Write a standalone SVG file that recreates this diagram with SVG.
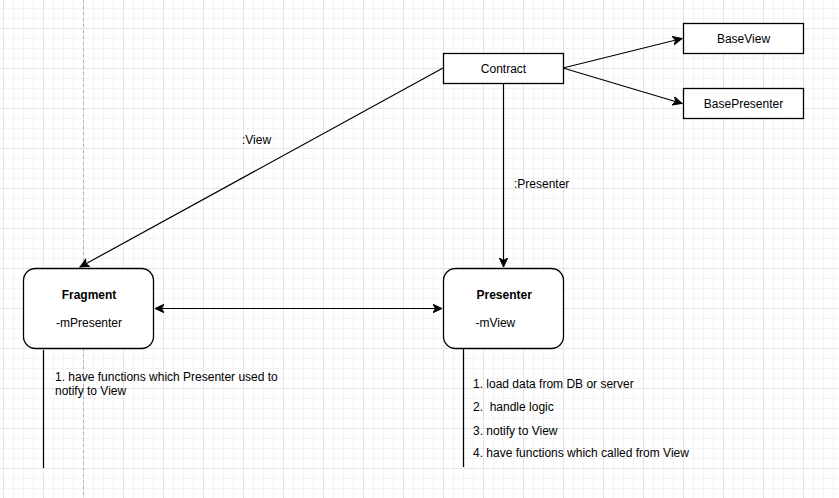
<svg xmlns="http://www.w3.org/2000/svg" width="839" height="498" viewBox="0 0 839 498">
<defs>
<pattern id="minor" x="3" y="8" width="10" height="10" patternUnits="userSpaceOnUse">
<path d="M0 0.5H10M0.5 0V10" fill="none" stroke="#f4f4f4" stroke-width="1"/>
</pattern>
<pattern id="major" x="3" y="28" width="40" height="40" patternUnits="userSpaceOnUse">
<path d="M0 0.5H40M0.5 0V40" fill="none" stroke="#e5e5e5" stroke-width="1"/>
</pattern>
<marker id="arr" viewBox="0 0 10 10" refX="9" refY="5" markerWidth="10" markerHeight="10" markerUnits="userSpaceOnUse" orient="auto-start-reverse">
<path d="M0,0.8 L9,5 L0,9.2 L2.5,5 Z" fill="#000" stroke="#000" stroke-width="1"/>
</marker>
<style>
.box{fill:#fff;stroke:#000;stroke-width:1.3}
.t{font-family:"Liberation Sans",Arial,sans-serif;font-size:12px;fill:#000;white-space:pre}
.b{font-weight:bold}
.c{fill:none;stroke:#000;stroke-width:1.2}
.life{fill:none;stroke:#000;stroke-width:1.3}
</style>
</defs>
<rect width="839" height="498" fill="#fff"/>
<rect width="839" height="498" fill="url(#minor)"/>
<rect width="839" height="498" fill="url(#major)"/>
<line x1="83.5" y1="0" x2="83.5" y2="498" stroke="#b0b0b0" stroke-width="1" stroke-dasharray="3,3"/>

<g id="connectors">
<line class="c" x1="563" y1="68" x2="682" y2="38.5" marker-end="url(#arr)"/>
<line class="c" x1="563" y1="68" x2="682" y2="103.5" marker-end="url(#arr)"/>
<line class="c" x1="443" y1="68" x2="80" y2="267" marker-end="url(#arr)"/>
<line class="c" x1="503.5" y1="83" x2="503.5" y2="267" marker-end="url(#arr)"/>
<line class="c" x1="155" y1="308.5" x2="442" y2="308.5" marker-start="url(#arr)" marker-end="url(#arr)"/>
<text class="t" x="242" y="144">:View</text>
<text class="t" x="514" y="188">:Presenter</text>
</g>

<g id="contract">
<rect class="box" x="443.5" y="53.5" width="120" height="30"/>
<text class="t" x="503.5" y="72.5" text-anchor="middle">Contract</text>
</g>
<g id="baseview">
<rect class="box" x="683.5" y="23.5" width="120" height="30"/>
<text class="t" x="743.5" y="42.5" text-anchor="middle">BaseView</text>
</g>
<g id="basepresenter">
<rect class="box" x="683.5" y="88.5" width="120" height="30"/>
<text class="t" x="743.5" y="107.5" text-anchor="middle">BasePresenter</text>
</g>

<g id="fragment">
<rect class="box" x="23.5" y="268.5" width="130" height="80" rx="12" ry="12"/>
<text class="t b" x="89" y="299" text-anchor="middle">Fragment</text>
<text class="t" x="89" y="327" text-anchor="middle">-mPresenter</text>
<line class="life" x1="43.5" y1="350" x2="43.5" y2="468"/>
<text class="t" x="55" y="381">1. have functions which Presenter used to</text>
<text class="t" x="55" y="395">notify to View</text>
</g>

<g id="presenter">
<rect class="box" x="443.5" y="268.5" width="120" height="80" rx="12" ry="12"/>
<text class="t b" x="476.5" y="299">Presenter</text>
<text class="t" x="475.5" y="327">-mView</text>
<line class="life" x1="463.5" y1="349" x2="463.5" y2="467"/>
<text class="t" x="473" y="387.5">1. load data from DB or server</text>
<text class="t" x="473" y="411" xml:space="preserve">2.  handle logic</text>
<text class="t" x="473" y="435">3. notify to View</text>
<text class="t" x="473" y="457">4. have functions which called from View</text>
</g>
</svg>
